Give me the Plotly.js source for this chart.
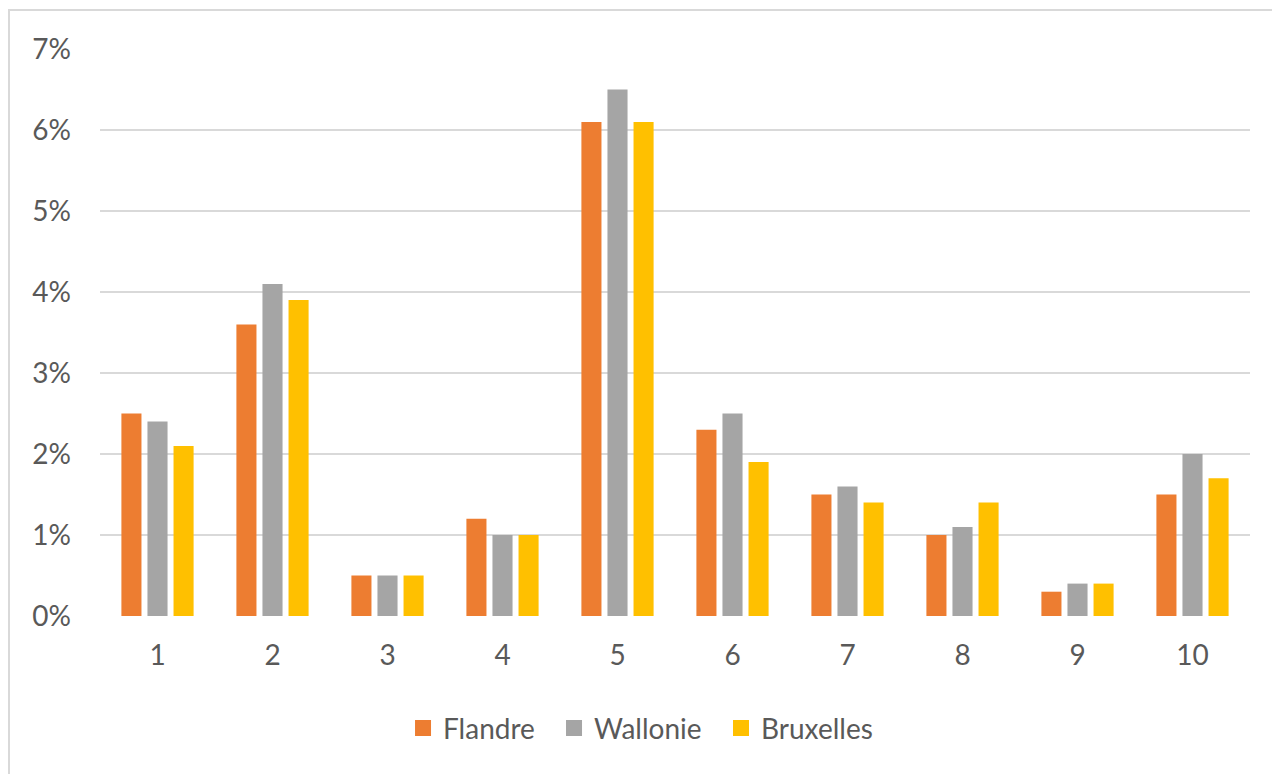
<!DOCTYPE html>
<html>
<head>
<meta charset="utf-8">
<script src="https://cdn.plot.ly/plotly-3.0.1.min.js"></script>
<style>
  html, body { margin: 0; padding: 0; background: #ffffff; }
  #frame {
    position: absolute; left: 0; top: 0; width: 1272px; height: 774px; overflow: hidden;
  }
  #box {
    position: absolute; left: 8px; top: 9px; width: 1300px; height: 800px;
    border-left: 2px solid #d9d9d9; border-top: 2px solid #d9d9d9;
  }
  #chart { position: absolute; left: 0; top: 0; width: 1272px; height: 774px; }
</style>
</head>
<body>
<div id="frame">
  <div id="box"></div>
  <div id="chart"></div>
</div>
<script>
// Categories and share per region (fractions, shown as percent)
const categories = ['1', '2', '3', '4', '5', '6', '7', '8', '9', '10'];
const flandre   = [0.025, 0.036, 0.005, 0.012, 0.061, 0.023, 0.015, 0.010, 0.003, 0.015];
const wallonie  = [0.024, 0.041, 0.005, 0.010, 0.065, 0.025, 0.016, 0.011, 0.004, 0.020];
const bruxelles = [0.021, 0.039, 0.005, 0.010, 0.061, 0.019, 0.014, 0.014, 0.004, 0.017];
const yTicks = [0, 0.01, 0.02, 0.03, 0.04, 0.05, 0.06, 0.07];

const series = [
  { name: 'Flandre',   values: flandre,   color: '#ED7D31', legend: 'legend'  },
  { name: 'Wallonie',  values: wallonie,  color: '#A5A5A5', legend: 'legend2' },
  { name: 'Bruxelles', values: bruxelles, color: '#FFC000', legend: 'legend3' }
];

const fontFamily = 'Lato, "Open Sans", sans-serif';

// Grouped bars
const barTraces = series.map(s => ({
  type: 'bar',
  name: s.name,
  x: categories,
  y: s.values,
  marker: { color: s.color, line: { width: 0 } },
  showlegend: false,
  legendgroup: s.name,
  hoverinfo: 'x+y+name'
}));

// Legend keys with larger square swatches, one legend per region
const keyTraces = series.map(s => ({
  type: 'scatter',
  mode: 'markers',
  name: s.name,
  x: [null],
  y: [null],
  marker: { symbol: 'square', size: 17, color: s.color },
  legend: s.legend,
  legendgroup: s.name,
  showlegend: true
}));

const legendBase = {
  orientation: 'h',
  xanchor: 'left',
  y: -0.198,
  yanchor: 'middle',
  font: { size: 28, color: '#595959', family: fontFamily },
  bgcolor: 'rgba(0,0,0,0)',
  borderwidth: 0
};

const layout = {
  width: 1272,
  height: 774,
  paper_bgcolor: 'rgba(0,0,0,0)',
  plot_bgcolor: 'rgba(0,0,0,0)',
  margin: { l: 100, r: 22, t: 49, b: 158 },
  barmode: 'group',
  bargap: 0.32,
  bargroupgap: 0.23,
  font: { family: fontFamily, color: '#595959', size: 28 },
  xaxis: {
    type: 'category',
    showgrid: false,
    zeroline: false,
    showline: false,
    ticks: '',
    ticklabelstandoff: 20,
    tickfont: { size: 28, color: '#595959', family: fontFamily }
  },
  yaxis: {
    range: [0, 0.07],
    tickvals: yTicks,
    tickformat: '.0%',
    showgrid: true,
    gridcolor: '#d9d9d9',
    gridwidth: 2,
    zeroline: false,
    showline: false,
    ticks: '',
    ticklabelstandoff: 28,
    tickfont: { size: 28, color: '#595959', family: fontFamily }
  },
  legend:  Object.assign({}, legendBase, { x: 0.2635 }),
  legend2: Object.assign({}, legendBase, { x: 0.3948 }),
  legend3: Object.assign({}, legendBase, { x: 0.5400 }),
  showlegend: true
};

Plotly.newPlot('chart', barTraces.concat(keyTraces), layout, { displayModeBar: false, staticPlot: true });
</script>
</body>
</html>
